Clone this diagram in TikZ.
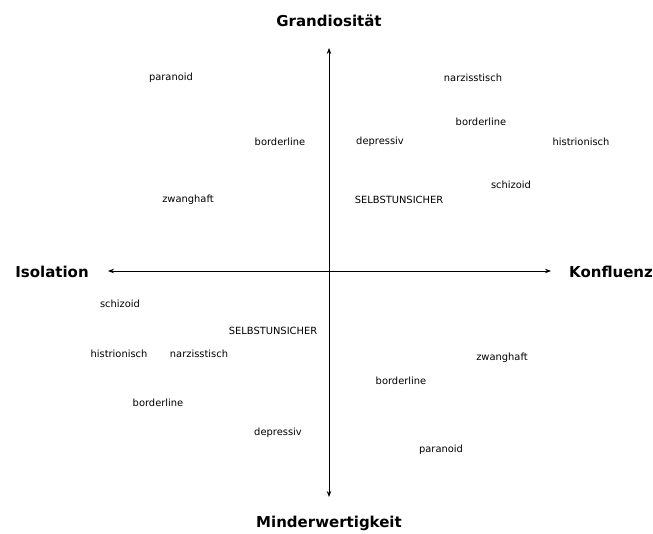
\documentclass[tikz,border=0pt]{standalone}
\usepackage{fontspec}
\setmainfont{DejaVu Sans}
\usetikzlibrary{arrows.meta}
\begin{document}
\begin{tikzpicture}[x=1pt,y=-1pt,
  lbl/.style={font=\fontsize{9.9}{12}\selectfont, inner sep=0pt},
  axlbl/.style={font=\fontsize{15}{18}\selectfont\bfseries, inner sep=0pt},
  axis/.style={line width=0.8pt, -{Stealth[length=6pt,width=4.5pt]}}]
\useasboundingbox (0,0) rectangle (653,534);
\coordinate (c) at (329,271);
\coordinate (top) at (329,48);
\coordinate (bot) at (329,497);
\coordinate (lft) at (108,271);
\coordinate (rgt) at (551,271);
\draw[axis] (c) -- (top);
\draw[axis] (c) -- (bot);
\draw[axis] (c) -- (lft);
\draw[axis] (c) -- (rgt);
\node[axlbl] (g) at (329,20.5) {Grandiosität};
\node[axlbl] (iso) at (52,271.5) {Isolation};
\node[axlbl] (kon) at (611,271.5) {Konfluenz};
\node[axlbl] (m) at (329,523.5) {Minderwertigkeit};
% upper half
\node[lbl] (a1) at (171,77.5) {paranoid};
\node[lbl] (a2) at (473,77.5) {narzisstisch};
\node[lbl] (a3) at (481,121.5) {borderline};
\node[lbl] (a4) at (280,141.5) {borderline};
\node[lbl] (a5) at (380,141.5) {depressiv};
\node[lbl] (a6) at (581,141.5) {histrionisch};
\node[lbl] (a7) at (511,184.5) {schizoid};
\node[lbl] (a8) at (188,199.5) {zwanghaft};
\node[lbl] (a9) at (399,199.5) {SELBSTUNSICHER};
% lower half
\node[lbl] (b1) at (120,303.5) {schizoid};
\node[lbl] (b2) at (273,330.5) {SELBSTUNSICHER};
\node[lbl] (b3) at (119,353.5) {histrionisch};
\node[lbl] (b4) at (199,353.5) {narzisstisch};
\node[lbl] (b5) at (502,357.5) {zwanghaft};
\node[lbl] (b6) at (401,380.5) {borderline};
\node[lbl] (b7) at (158,402.5) {borderline};
\node[lbl] (b8) at (278,432.5) {depressiv};
\node[lbl] (b9) at (441,449.5) {paranoid};
\end{tikzpicture}
\end{document}
